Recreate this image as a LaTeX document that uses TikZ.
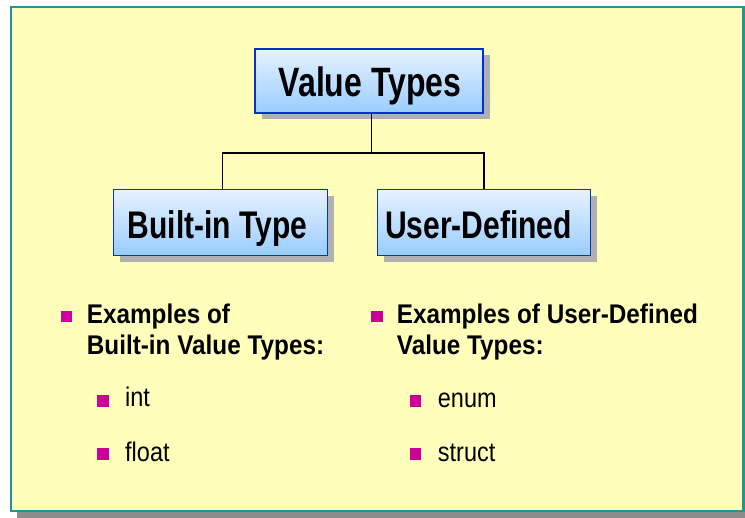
\documentclass[tikz,border=0pt]{standalone}
\usepackage{fontspec}
\setmainfont{Liberation Sans}
\newfontfamily\boxfont{Liberation Sans}[FakeStretch=0.78]
\newfontfamily\headfont{Liberation Sans}[FakeStretch=0.9]
\newfontfamily\itemfont{Liberation Sans}[FakeStretch=0.87]
\usetikzlibrary{shadows}
\definecolor{panelfill}{RGB}{255,255,187}
\definecolor{panelline}{RGB}{32,150,150}
\definecolor{panelshadow}{RGB}{140,140,140}
\definecolor{boxtop}{RGB}{232,242,255}
\definecolor{boxbot}{RGB}{153,204,255}
\definecolor{boxline}{RGB}{0,51,204}
\definecolor{boxshadow}{RGB}{176,176,176}
\definecolor{bulletc}{RGB}{204,0,153}
\tikzset{
  typebox/.style={draw=boxline, line width=1.6pt, top color=boxtop, bottom color=boxbot,
    inner sep=0pt, font=\boxfont\bfseries,
    general shadow={fill=boxshadow, shadow xshift=6.5pt, shadow yshift=-6.5pt}},
  bulletbox/.style={fill=bulletc, inner sep=0pt, minimum size=11.5pt},
  headtext/.style={anchor=base west, inner sep=0pt, align=left, font=\headfont\bfseries\fontsize{27}{31}\selectfont},
  itemtext/.style={anchor=base west, inner sep=0pt, font=\itemfont\fontsize{27}{31}\selectfont},
  link/.style={line width=1.5pt, black}
}
\begin{document}
\begin{tikzpicture}[x=1pt,y=-1pt]
\useasboundingbox (0,0) rectangle (745,518);
% panel
\fill[panelshadow] (17,13) rectangle (750,518);
\filldraw[fill=panelfill, draw=panelline, line width=2.2pt] (11,7) rectangle (743.5,511);
% boxes
\node[typebox, minimum width=228pt, minimum height=64pt] (vt) at (369,81) {};
\node[inner sep=0pt, anchor=base, font=\boxfont\bfseries\fontsize{41}{48}\selectfont] (vtt) at (370,96.7) {Value Types};
\node[typebox, minimum width=214pt, minimum height=66pt] (bt) at (220.5,222.5) {};
\node[inner sep=0pt, anchor=base, font=\boxfont\bfseries\fontsize{38.5}{46}\selectfont] (btt) at (217.5,238.3) {Built-in Type};
\node[typebox, minimum width=213pt, minimum height=66pt] (ud) at (484,222.5) {};
\node[inner sep=0pt, anchor=base, font=\boxfont\bfseries\fontsize{38.5}{46}\selectfont] (udt) at (478.5,238.3) {User-Defined};
% connectors
\coordinate (j) at (371.7,153);
\draw[link] (vt.south -| j) -- (j);
\draw[link] (bt.north -| 222.7,0) |- (j) -| (ud.north -| 484,0);
% bullets left
\node[bulletbox] (b1) at (66.5,316.5) {};
\node[headtext] (h1) at (86.7,354.3) {Examples of\\Built-in Value Types:};
\node[bulletbox] (b11) at (103,401) {};
\node[itemtext] (i11) at (125,407) {int};
\node[bulletbox] (b12) at (103,454.2) {};
\node[itemtext] (i12) at (125,461.7) {float};
% bullets right
\node[bulletbox] (b2) at (377,316.5) {};
\node[headtext] (h2) at (396.7,355) {Examples of User-Defined\\Value Types:};
\node[bulletbox] (b21) at (415.3,401) {};
\node[itemtext] (i21) at (437.7,407.3) {enum};
\node[bulletbox] (b22) at (415.3,454.2) {};
\node[itemtext] (i22) at (437.7,461.7) {struct};
\end{tikzpicture}
\end{document}
